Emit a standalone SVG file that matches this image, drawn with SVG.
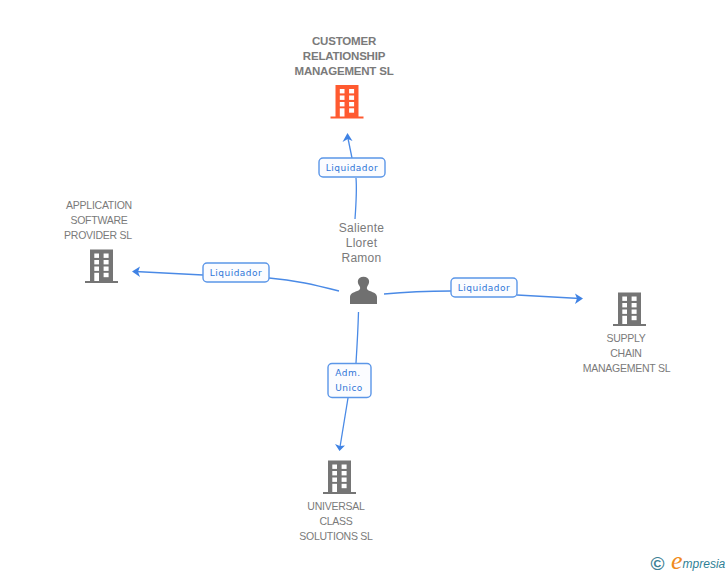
<svg xmlns="http://www.w3.org/2000/svg" width="728" height="575" viewBox="0 0 728 575">
<style>
.t{font-family:"Liberation Sans",Arial,sans-serif;font-size:10.500px;letter-spacing:-.25px;fill:#7a7a7a;text-anchor:middle}
.b{font-weight:bold;font-size:11.500px;letter-spacing:-.2px}
.p{font-size:12px;letter-spacing:.25px}
.l{font-family:"DejaVu Sans",Verdana,sans-serif;font-size:9px;fill:#2f76d8;text-anchor:middle;letter-spacing:.5px}
.c{fill:none;stroke:#4a8ae6;stroke-width:1.3}
.a{fill:#3f82e4}
.box{fill:#fbfcff;stroke:#5b96e8;stroke-width:1.4}
</style>
<defs>
<g id="bld">
<path d="M0 0H23V31.500H28V33.500H-5V31.500H0Z"/>
<g fill="#fff">
<rect x="4.300" y="4" width="4.700" height="4.400"/><rect x="13.600" y="4" width="5" height="4.400"/>
<rect x="4.300" y="10.500" width="4.700" height="4.400"/><rect x="13.600" y="10.500" width="5" height="4.400"/>
<rect x="4.300" y="17" width="4.700" height="4.400"/><rect x="13.600" y="17" width="5" height="4.400"/>
<rect x="4.300" y="23.300" width="4.700" height="8.200"/><rect x="13.600" y="23.300" width="5" height="4.400"/>
</g>
</g>
</defs>
<g id="connectors">
<path class="c" d="M356 178C357 190 356 205 355 219"/>
<path class="c" d="M352 158L347.500 136"/>
<path class="a" d="M347.500 133L352.500 141L347.800 139L342.500 142Z"/>
<path class="c" d="M339 291C315 285 295 280 269 278"/>
<path class="c" d="M203 275L135 271.500"/>
<path class="a" d="M132 271.500L140 266.500L138 271.700L140 277Z"/>
<path class="c" d="M384 294C405 292 430 291 451 291"/>
<path class="c" d="M517 295L580 298.500"/>
<path class="a" d="M583 298.500L575 293.500L577 298.500L575 304Z"/>
<path class="c" d="M358.500 312C358 330 357 347 356 363"/>
<path class="c" d="M348 398L340 447"/>
<path class="a" d="M339.500 451L335 444L339.800 446L345 445.500Z"/>
</g>
<g id="n-customer">
<use href="#bld" x="335.500" y="85" fill="#ff5a30"/>
<text class="t b" x="344" y="45">CUSTOMER</text>
<text class="t b" x="344" y="60">RELATIONSHIP</text>
<text class="t b" x="344" y="75">MANAGEMENT SL</text>
</g>
<g id="n-application">
<use href="#bld" x="90" y="249.500" fill="#757575"/>
<text class="t" x="99" y="209">APPLICATION</text>
<text class="t" x="99" y="224">SOFTWARE</text>
<text class="t" x="98" y="239">PROVIDER SL</text>
</g>
<g id="n-supply">
<use href="#bld" x="618" y="292.500" fill="#757575"/>
<text class="t" x="626" y="342">SUPPLY</text>
<text class="t" x="626" y="357">CHAIN</text>
<text class="t" x="626.500" y="372">MANAGEMENT SL</text>
</g>
<g id="n-universal">
<use href="#bld" x="328" y="460.500" fill="#757575"/>
<text class="t" x="336" y="510">UNIVERSAL</text>
<text class="t" x="336" y="525">CLASS</text>
<text class="t" x="336" y="540">SOLUTIONS SL</text>
</g>
<g id="n-person">
<path fill="#707070" d="M350 304V297C350 293 355 292 358.500 290.500C360.500 289.500 360.500 287.500 359.500 286C356.500 282 357.500 276.700 363.500 276.700C369.500 276.700 370.500 282 367.500 286C366.500 287.500 366.500 289.500 368.500 290.500C372 292 377 293 377 297V304Z"/>
<text class="t p" x="361.500" y="232">Saliente</text>
<text class="t p" x="361.500" y="247">Lloret</text>
<text class="t p" x="361.500" y="262">Ramon</text>
</g>
<g id="e1"><rect class="box" x="319" y="158" width="66" height="19" rx="4"/><text class="l" x="352" y="171">Liquidador</text></g>
<g id="e2"><rect class="box" x="203" y="263" width="66" height="19" rx="4"/><text class="l" x="236" y="276">Liquidador</text></g>
<g id="e3"><rect class="box" x="451" y="278" width="66" height="19" rx="4"/><text class="l" x="484" y="291">Liquidador</text></g>
<g id="e4"><rect class="box" x="328" y="363.500" width="43" height="34" rx="4"/><text class="l" x="348" y="376">Adm.</text><text class="l" x="349" y="391">Unico</text></g>
<g id="logo">
<text x="657.500" y="570" font-family="Liberation Sans,sans-serif" font-size="19" font-weight="bold" fill="#3d7f95" text-anchor="middle">©</text>
<text x="671" y="569" font-family="Liberation Sans,sans-serif" font-style="italic" font-size="12" fill="#2f7f96"><tspan font-family="Liberation Serif,serif" font-size="26" fill="#f08a1c">e</tspan><tspan dy="-1">mpresia</tspan></text>
</g>
</svg>
